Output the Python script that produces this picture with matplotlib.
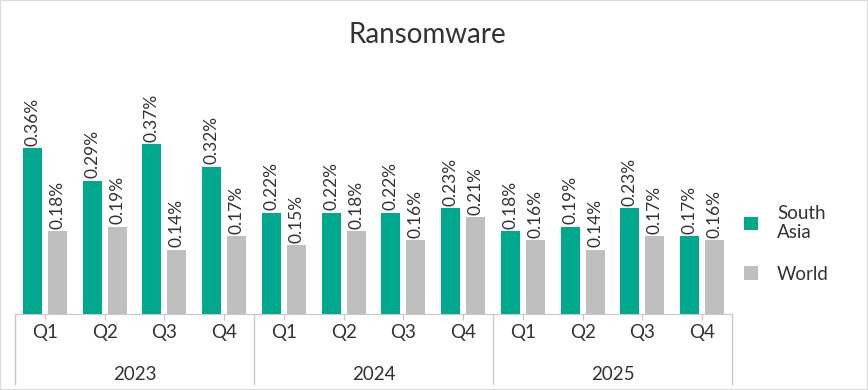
import numpy as np
import matplotlib.pyplot as plt
from matplotlib.patches import Rectangle

quarters = ["Q1", "Q2", "Q3", "Q4"] * 3
years = ["2023", "2024", "2025"]
south_asia = [0.36, 0.29, 0.37, 0.32, 0.22, 0.22, 0.22, 0.23, 0.18, 0.19, 0.23, 0.17]
world = [0.18, 0.19, 0.14, 0.17, 0.15, 0.18, 0.16, 0.21, 0.16, 0.14, 0.17, 0.16]

TEAL = "#00A88E"
GREY = "#BFBFBF"
TEXT = "#333333"
LINE = "#C8C8C8"

plt.rcParams["font.family"] = ["Lato", "DejaVu Sans"]

fig = plt.figure(figsize=(8.68, 3.9), dpi=100)
ax = fig.add_axes([15 / 868, 76 / 390, 717 / 868, 230 / 390])

x = np.arange(len(quarters))
w = 0.318
off = 0.21
ax.bar(x - off, south_asia, w, color=TEAL, label="South\nAsia")
ax.bar(x + off, world, w, color=GREY, label="World")

for xi, v in zip(x - off, south_asia):
    ax.text(xi, v + 0.005, f"{v:.2f}%", rotation=90, ha="center", va="bottom",
            fontsize=12.5, color=TEXT)
for xi, v in zip(x + off, world):
    ax.text(xi, v + 0.005, f"{v:.2f}%", rotation=90, ha="center", va="bottom",
            fontsize=12.5, color=TEXT)

ax.set_xlim(-0.5, len(quarters) - 0.5)
ax.set_ylim(0, 0.5)
ax.set_yticks([])
for s in ["top", "right", "left"]:
    ax.spines[s].set_visible(False)
ax.spines["bottom"].set_color(LINE)

ax.set_xticks(x)
ax.set_xticklabels(quarters, fontsize=13.5, color=TEXT)
ax.tick_params(axis="x", length=4.5, color=LINE, pad=3)

# year group separators and labels
trans = ax.get_xaxis_transform()
for b in [-0.5, 3.5, 7.5, 11.5]:
    ax.plot([b, b], [0, -0.305], color=LINE, lw=1, transform=trans, clip_on=False)
for i, yr in enumerate(years):
    ax.text(4 * i + 1.5, -0.265, yr, transform=trans, ha="center", va="center",
            fontsize=13.5, color=TEXT)

fig.text(0.492, 0.91, "Ransomware", ha="center", va="center", fontsize=20, color=TEXT)

fig.legend(loc="center left", bbox_to_anchor=(0.838, 0.375), frameon=False,
           fontsize=13.5, handlelength=0.75, handleheight=0.75, handletextpad=1.0,
           labelspacing=1.3, labelcolor=TEXT)

fig.patches.append(Rectangle((0, 0), 1, 1, transform=fig.transFigure, fill=False,
                             edgecolor="#D9D9D9", lw=1.5))

fig.savefig("out.png", dpi=100)
